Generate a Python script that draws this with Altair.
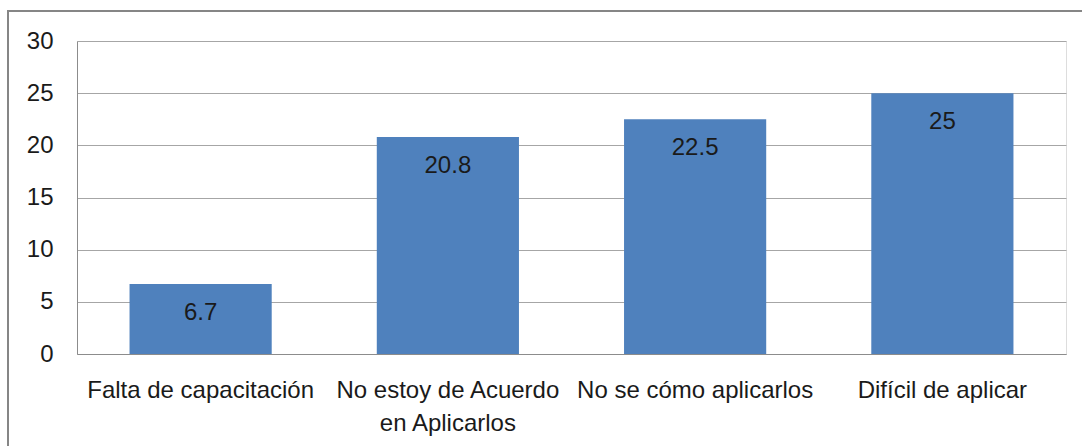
import altair as alt
import pandas as pd

categories = [
    "Falta de capacitación",
    "No estoy de Acuerdo|en Aplicarlos",
    "No se cómo aplicarlos",
    "Difícil de aplicar",
]
values = [6.7, 20.8, 22.5, 25]
y_ticks = [0, 5, 10, 15, 20, 25, 30]

df = pd.DataFrame({"categoria": categories, "valor": values})

FONT = "Liberation Sans"
W, H = 989, 313

x_enc = alt.X(
    "categoria:N",
    sort=categories,
    scale=alt.Scale(paddingInner=0, paddingOuter=0),
    axis=alt.Axis(
        title=None,
        labelAngle=0,
        ticks=False,
        labelPadding=24,
        labelExpr="split(datum.label, '|')",
        labelLineHeight=33,
        labelFont=FONT,
        labelFontSize=24,
        labelColor="#1a1a1a",
        domainColor="#8c8c8c",
        grid=False,
        labelLimit=400,
    ),
)
y_enc = alt.Y(
    "valor:Q",
    scale=alt.Scale(domain=[0, 30], nice=False),
    axis=alt.Axis(
        title=None,
        values=y_ticks,
        ticks=False,
        labelPadding=24,
        labelFont=FONT,
        labelFontSize=24,
        labelColor="#1a1a1a",
        domainColor="#8c8c8c",
        gridColor="#a6a6a6",
        gridWidth=1,
    ),
)

bars = alt.Chart(df).mark_bar(
    color="#4F81BD", width=alt.RelativeBandSize(0.575)
).encode(x=x_enc, y=y_enc)

labels = alt.Chart(df).mark_text(
    baseline="middle", align="center", dy=29, font=FONT, fontSize=24, color="#1a1a1a"
).encode(
    x=alt.X("categoria:N", sort=categories),
    y=alt.Y("valor:Q"),
    text=alt.Text("valor:Q"),
)

# outer frame around the whole chart
frame = alt.Chart(pd.DataFrame({"k": [0]})).mark_rect(
    fill=None, stroke="#868686", strokeWidth=2
).encode(
    x=alt.value(-69), x2=alt.value(W + 60), y=alt.value(-30), y2=alt.value(H + 110)
)

chart = (
    alt.layer(bars, labels, frame)
    .properties(
        width=W,
        height=H,
        autosize=alt.AutoSizeParams(type="none"),
        padding={"left": 77, "top": 41, "right": 16, "bottom": 92},
    )
    .configure_view(stroke=None)
    .configure(background="white")
)

chart.save("out.html", embed_options={"renderer": "svg", "actions": False})
